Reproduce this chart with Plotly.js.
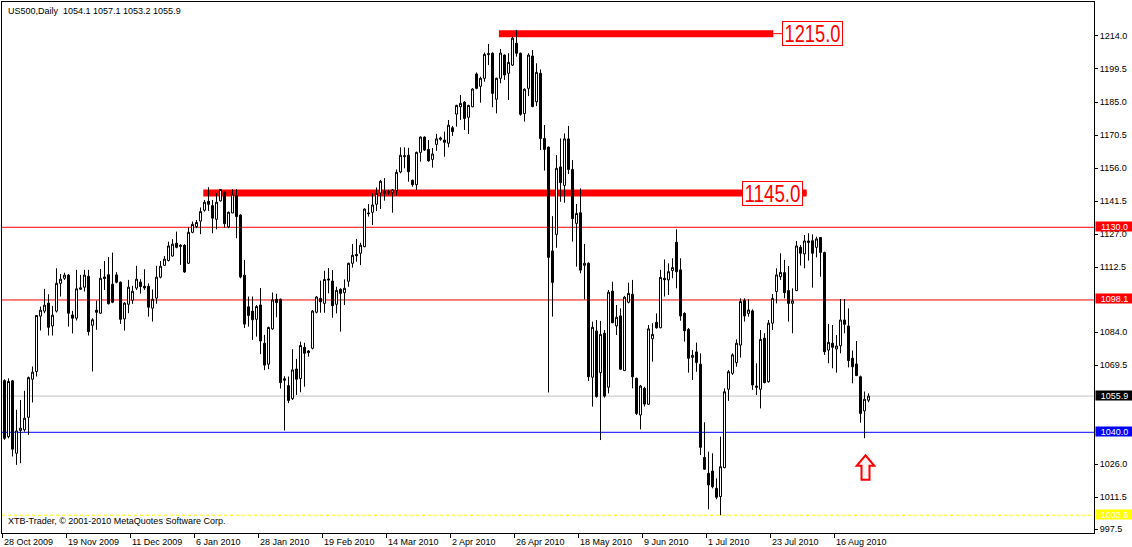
<!DOCTYPE html>
<html><head><meta charset="utf-8">
<script src="https://cdn.plot.ly/plotly-3.0.1.min.js"></script>
<style>html,body{margin:0;padding:0;background:#fff;overflow:hidden}#chart{width:1132px;height:547px}</style>
</head><body><div id="chart"></div>
<script>
// ---- data (US500 daily) ----
const openP = [
1062.7,1038.1,1062.6,1030.8,1040.8,1041.1,1046.6,1063.3,1066.7,1091.0,
1093.2,1096.7,1086.7,1093.2,1105.4,1107.6,1109.0,1091.5,1090.1,1102.8,
1103.7,1108.5,1087.0,1093.6,1092.3,1108.2,1109.2,1105.0,1109.1,1105.9,
1089.8,1096.2,1098.0,1103.3,1106.0,1104.1,1104.1,1094.5,1098.9,1108.1,
1113.3,1115.4,1117.4,1123.0,1122.1,1122.1,1114.2,1127.8,1130.3,1132.7,
1137.5,1141.4,1139.5,1133.5,1141.6,1145.4,1130.2,1136.3,1143.9,1135.4,
1109.0,1095.1,1093.2,1089.6,1095.9,1079.1,1069.9,1085.4,1098.4,1098.4,
1063.5,1060.5,1054.8,1067.8,1063.6,1077.3,1075.7,1076.9,1092.7,1098.8,
1096.6,1107.3,1106.4,1096.2,1102.8,1101.3,1106.3,1114.2,1118.1,1118.6,
1121.5,1136.3,1136.6,1140.1,1145.1,1145.8,1145.8,1145.2,1146.1,1154.3,
1161.0,1161.6,1150.6,1148.7,1162.9,1169.6,1164.2,1159.8,1166.4,1168.6,
1168.3,1166.9,1173.7,1179.7,1182.9,1184.9,1178.3,1182.9,1197.3,1191.9,
1195.4,1205.8,1206.4,1186.2,1195.4,1205.6,1197.6,1201.2,1210.8,1206.4,
1179.9,1191.0,1205.2,1185.1,1197.6,1169.0,1165.2,1119.6,1126.9,1156.5,
1148.4,1168.8,1155.4,1131.7,1136.4,1113.3,1114.2,1064.2,1084.5,1066.2,
1083.5,1059.8,1102.0,1086.7,1091.1,1067.1,1097.1,1100.6,1063.7,1047.6,
1059.3,1052.3,1081.1,1088.3,1085.9,1107.6,1106.9,1111.0,1123.4,1111.3,
1092.2,1085.2,1072.9,1075.3,1069.9,1029.0,1022.0,1023.0,1015.4,1011.8,
1024.5,1058.9,1065.9,1070.6,1078.3,1097.8,1092.2,1093.3,1060.3,1058.9,
1081.3,1062.2,1087.9,1101.8,1108.3,1110.1,1102.2,1096.6,1102.2,1121.2,
1118.3,1123.3,1124.1,1121.2,1125.5,1118.9,1076.1,1079.1,1076.6,1078.0,
1089.3,1086.7,1072.5,1070.0,1064.4,1049.4,1054.1];
const highP = [
1063.3,1063.7,1063.0,1049.9,1054.2,1058.2,1064.5,1068.9,1091.5,1095.2,
1103.0,1100.6,1095.5,1112.0,1109.5,1110.1,1109.5,1093.3,1111.3,1109.1,
1111.3,1111.3,1090.1,1097.8,1111.7,1115.2,1116.9,1118.9,1110.3,1106.2,
1097.1,1106.9,1104.3,1113.1,1107.2,1111.6,1105.4,1102.7,1113.1,1115.2,
1117.4,1123.7,1124.8,1128.1,1122.6,1122.6,1129.9,1132.5,1133.2,1138.7,
1142.0,1147.6,1142.0,1145.0,1146.8,1145.7,1136.9,1146.7,1146.7,1135.7,
1115.7,1099.6,1099.6,1095.9,1103.3,1082.8,1086.4,1101.4,1100.8,1098.7,
1064.6,1064.5,1076.5,1072.2,1079.8,1079.3,1076.1,1093.7,1099.8,1106.6,
1110.9,1112.1,1111.2,1103.9,1103.2,1107.1,1114.5,1122.7,1124.9,1123.2,
1138.3,1140.2,1144.9,1147.5,1150.8,1151.6,1146.4,1146.8,1155.4,1165.1,
1165.1,1164.9,1151.0,1163.2,1169.9,1169.9,1168.3,1164.8,1171.0,1169.8,
1172.0,1177.1,1174.5,1183.8,1188.1,1185.4,1183.8,1191.1,1198.0,1196.1,
1206.7,1210.5,1206.8,1195.7,1208.3,1205.9,1206.4,1213.7,1216.6,1206.7,
1191.0,1206.4,1207.8,1202.0,1199.3,1174.9,1165.4,1134.9,1161.7,1169.0,
1171.2,1174.5,1159.5,1140.2,1147.1,1122.7,1114.6,1088.6,1089.3,1088.9,
1084.9,1102.5,1106.1,1095.9,1094.4,1099.9,1105.7,1106.9,1064.0,1060.8,
1060.0,1087.1,1087.9,1092.2,1111.3,1115.9,1114.2,1116.4,1129.1,1116.4,
1092.7,1085.8,1076.1,1079.4,1074.7,1044.4,1031.5,1030.8,1019.8,1038.1,
1059.3,1067.4,1074.7,1080.8,1098.8,1098.8,1098.4,1094.0,1070.3,1084.9,
1083.5,1089.3,1100.7,1112.0,1118.6,1115.7,1113.0,1103.2,1124.0,1122.2,
1126.6,1127.4,1126.9,1125.9,1125.6,1119.3,1087.6,1087.1,1082.7,1098.5,
1098.5,1094.4,1075.9,1080.1,1064.9,1057.9,1057.1];
const lowP = [
1036.7,1037.4,1029.4,1025.7,1026.4,1040.3,1038.9,1053.1,1064.5,1084.7,
1092.3,1082.5,1082.5,1092.6,1099.6,1106.9,1086.4,1083.4,1089.1,1102.5,
1101.8,1082.5,1066.7,1085.0,1092.0,1102.5,1096.1,1096.7,1105.4,1087.6,
1084.7,1092.3,1096.4,1102.5,1100.9,1102.5,1090.8,1088.6,1096.4,1107.6,
1113.1,1115.0,1117.1,1120.8,1113.5,1110.0,1113.9,1127.4,1129.6,1127.0,
1136.9,1137.2,1127.4,1129.1,1141.3,1129.9,1129.6,1136.2,1125.2,1107.6,
1085.8,1086.4,1080.6,1082.0,1074.3,1067.3,1067.7,1085.0,1090.5,1059.2,
1040.8,1052.8,1054.2,1056.4,1057.6,1060.0,1073.2,1076.4,1092.2,1092.5,
1092.5,1101.0,1090.3,1092.2,1084.2,1095.9,1103.9,1112.3,1114.9,1113.4,
1121.2,1134.7,1131.0,1137.1,1138.0,1141.7,1144.2,1136.4,1143.9,1153.7,
1155.9,1150.0,1147.8,1146.4,1158.8,1163.5,1158.8,1156.2,1163.6,1168.0,
1161.0,1165.1,1170.1,1174.2,1177.1,1172.7,1171.0,1182.7,1190.6,1184.7,
1193.9,1201.2,1182.7,1180.0,1193.2,1194.7,1185.9,1200.8,1204.9,1179.0,
1176.4,1187.6,1182.7,1183.2,1163.9,1154.9,1057.5,1090.8,1121.0,1141.2,
1140.8,1153.4,1123.7,1112.7,1109.8,1098.4,1062.5,1051.3,1055.2,1036.6,
1055.2,1057.1,1087.9,1082.7,1067.4,1066.9,1096.6,1059.3,1047.6,1041.3,
1051.3,1052.0,1071.0,1085.5,1085.7,1099.6,1100.3,1107.6,1103.2,1089.0,
1079.8,1066.2,1063.0,1066.6,1030.0,1023.5,1006.2,1015.4,1010.6,1003.6,
1024.2,1053.8,1065.2,1068.8,1072.8,1088.6,1090.8,1058.6,1056.4,1050.5,
1061.5,1061.8,1084.9,1096.6,1106.9,1098.8,1088.6,1083.5,1102.0,1113.2,
1112.0,1115.4,1103.5,1116.8,1108.3,1074.0,1070.3,1068.1,1066.2,1074.7,
1083.5,1068.5,1061.5,1064.7,1044.2,1037.4,1053.2];
const closeP = [
1037.4,1062.3,1032.6,1040.6,1041.8,1046.2,1064.0,1066.4,1091.3,1093.6,
1095.8,1086.1,1091.4,1105.4,1107.2,1109.0,1092.3,1090.1,1103.0,1103.4,
1109.0,1084.2,1089.4,1092.7,1107.6,1107.5,1096.5,1097.1,1105.9,1089.6,
1096.7,1103.7,1101.9,1107.2,1104.0,1103.4,1094.9,1098.4,1108.1,1112.9,
1116.0,1121.8,1122.6,1121.2,1121.7,1110.4,1127.8,1131.3,1132.1,1136.9,
1141.0,1140.1,1134.0,1141.0,1146.6,1131.6,1136.6,1144.5,1134.7,1108.2,
1087.5,1091.3,1089.4,1095.2,1080.1,1069.5,1086.0,1098.1,1097.0,1061.8,
1062.9,1054.0,1067.4,1063.3,1078.1,1074.7,1075.0,1093.2,1099.4,1097.3,
1107.1,1106.9,1095.6,1102.3,1101.0,1103.2,1114.2,1117.7,1117.5,1122.1,
1138.0,1136.0,1139.8,1144.9,1150.2,1144.9,1145.1,1146.4,1154.1,1161.6,
1161.4,1154.4,1148.7,1162.9,1169.6,1163.9,1159.2,1162.2,1168.8,1169.2,
1167.3,1174.8,1172.0,1183.5,1184.4,1177.8,1183.5,1190.7,1191.0,1195.4,
1205.9,1206.2,1188.8,1195.4,1206.5,1196.9,1202.4,1213.0,1206.4,1179.6,
1190.6,1205.6,1183.0,1198.0,1169.0,1164.2,1116.8,1105.8,1155.9,1149.6,
1168.8,1155.4,1133.8,1136.1,1111.2,1114.2,1064.4,1086.1,1055.7,1083.0,
1055.9,1101.5,1088.1,1090.5,1067.7,1099.3,1101.0,1064.4,1048.3,1060.3,
1052.4,1085.4,1083.0,1085.9,1108.0,1107.0,1110.5,1112.3,1110.5,1091.1,
1084.6,1072.5,1073.8,1070.6,1033.4,1023.8,1016.9,1016.1,1011.5,1024.9,
1057.8,1066.6,1074.0,1079.1,1097.4,1091.1,1093.7,1060.8,1059.8,1080.8,
1061.8,1087.9,1098.8,1109.1,1110.2,1101.3,1096.6,1097.7,1121.8,1118.6,
1124.0,1124.0,1118.6,1124.9,1119.0,1075.4,1079.5,1077.3,1077.9,1089.3,
1087.4,1071.5,1068.8,1064.9,1048.3,1054.5,1055.9];

const headerText = 'US500,Daily';
const footerText = 'XTB-Trader, \u00a9 2001-2010 MetaQuotes Software Corp.';
const dateTickBars = [0,16,32,48,64,80,96,112,128,144,160,176,192,208];
const dateTickLabels = ['28 Oct 2009','19 Nov 2009','11 Dec 2009','6 Jan 2010','28 Jan 2010','19 Feb 2010',
  '14 Mar 2010','2 Apr 2010','26 Apr 2010','18 May 2010','9 Jun 2010','1 Jul 2010','23 Jul 2010','16 Aug 2010'];
// visible price-scale ticks (the ones under the coloured level boxes are hidden in the original)
const priceTicks = [1214.0,1199.5,1185.0,1170.5,1156.0,1141.5,1127.0,1112.5,1084.0,1069.5,1026.0,1011.5,997.5];
// horizontal levels on the right price scale
const levelPrices = [1130.0, 1098.1, 1055.9, 1040.0, 1003.6];
// thick resistance zones with price boxes: price, first bar, last bar, label bar
const zonePrices = [1215.0, 1145.0];
const zoneStartBar = [123.6, 49.7];
const zoneEndBar = [192.2, 200.55];
const zoneLabelBar = [194.45, 184.45];

// ---- styles ----
const levelColors = ['#ff0000', '#ff0000', '#c0c0c0', '#0000ff', '#ffff00'];
const levelLabelBg = ['#ff0000', '#ff0000', '#000000', '#0000ff', '#ffff00'];
const FONT = '"Liberation Sans", Arial, sans-serif';

const bars = openP.map((_, i) => i);
const lastIdx = openP.length - 1;

const trace = {
  type: 'candlestick', x: bars, open: openP, high: highP, low: lowP, close: closeP,
  increasing: {line: {color: '#000000', width: 1}, fillcolor: '#ffffff'},
  decreasing: {line: {color: '#000000', width: 1}, fillcolor: '#000000'},
  whiskerwidth: 0, hoverinfo: 'skip', showlegend: false
};

const shapes = [];
levelPrices.forEach((p, k) => {
  shapes.push({type: 'line', xref: 'paper', x0: 0, x1: 1, yref: 'y', y0: p, y1: p, layer: 'below',
    line: {color: levelColors[k], width: 1, dash: k === 4 ? '3px,3px' : 'solid'}});
});
zonePrices.forEach((p, k) => {
  shapes.push({type: 'line', xref: 'x', x0: zoneStartBar[k], x1: zoneEndBar[k], yref: 'y', y0: p, y1: p,
    layer: 'below', line: {color: '#ff0000', width: 7}});
  shapes.push({type: 'line', xref: 'x', x0: zoneEndBar[k], x1: zoneLabelBar[k], yref: 'y', y0: p, y1: p,
    layer: 'below', line: {color: '#ff0000', width: 1}});
});
// hollow up-arrow under the penultimate candle
const arrowBar = lastIdx - 1;
shapes.push({type: 'path', xref: 'x', yref: 'y', xsizemode: 'pixel', ysizemode: 'pixel',
  xanchor: arrowBar, yanchor: lowP[arrowBar], layer: 'above',
  path: 'M 1,-17 L 9.8,-27.5 L 5,-27.5 L 5,-41.5 L -3,-41.5 L -3,-27.5 L -7.8,-27.5 Z',
  fillcolor: '#fff4f4', line: {color: '#ff0000', width: 2}});

const annotations = [];
annotations.push({xref: 'paper', yref: 'paper', x: 0, y: 1, xanchor: 'left', yanchor: 'top', xshift: 4, yshift: -2,
  showarrow: false, font: {family: FONT, size: 9, color: '#000'},
  text: headerText + '\u00a0\u00a0' + [openP[lastIdx], highP[lastIdx], lowP[lastIdx], closeP[lastIdx]].map(v => v.toFixed(1)).join(' ')});
annotations.push({xref: 'paper', yref: 'paper', x: 0, y: 0, xanchor: 'left', yanchor: 'bottom', xshift: 4, yshift: 5,
  showarrow: false, font: {family: FONT, size: 9, color: '#000'}, text: footerText});
zonePrices.forEach((p, k) => {
  annotations.push({xref: 'x', yref: 'y', x: zoneLabelBar[k], y: p, xanchor: 'left', yanchor: 'middle',
    showarrow: false, text: p.toFixed(1), font: {family: FONT, size: 24, color: '#ff0000'},
    bgcolor: '#ffffff', bordercolor: '#ff0000', borderwidth: 1, borderpad: 0, width: 59, height: 23,
    align: 'center', name: 'zoneLabel'});
});
levelPrices.forEach((p, k) => {
  annotations.push({xref: 'paper', yref: 'y', x: 1, y: p, xanchor: 'left', yanchor: 'middle', xshift: 1, yshift: 1,
    showarrow: false, text: p.toFixed(1), font: {family: FONT, size: 9, color: '#ffffff'},
    bgcolor: levelLabelBg[k], borderpad: 0, width: 37, height: 9, align: 'center'});
});

const layout = {
  width: 1132, height: 547,
  margin: {l: 2, r: 38, t: 2, b: 14, pad: 0},
  paper_bgcolor: '#ffffff', plot_bgcolor: '#ffffff',
  showlegend: false, boxgap: 0.5, boxgroupgap: 0,
  font: {family: FONT, size: 9, color: '#000'},
  xaxis: {type: 'linear', range: [-0.625, 272.375], showgrid: false, zeroline: false,
    showline: true, mirror: true, linecolor: '#000', linewidth: 1,
    ticks: 'outside', ticklen: 4, tickwidth: 1, tickcolor: '#000',
    tickvals: dateTickBars.map(b => b - 0.4), ticktext: dateTickLabels,
    ticklabelposition: 'outside right', tickfont: {family: FONT, size: 9, color: '#000'},
    rangeslider: {visible: false}, fixedrange: true},
  yaxis: {side: 'right', range: [995.8, 1228.9], showgrid: false, zeroline: false,
    showline: true, mirror: true, linecolor: '#000', linewidth: 1,
    ticks: 'outside', ticklen: 3, tickwidth: 1, tickcolor: '#000',
    tickvals: priceTicks, ticktext: priceTicks.map(v => v.toFixed(1)),
    tickfont: {family: FONT, size: 9, color: '#000'}, fixedrange: true},
  shapes: shapes, annotations: annotations
};

Plotly.newPlot('chart', [trace], layout, {staticPlot: true, displayModeBar: false}).then(function () {
  // the MetaTrader price boxes use a condensed face: squeeze the glyphs to the box
  const zoneTexts = zonePrices.map(p => p.toFixed(1));
  document.querySelectorAll('#chart .annotation-text').forEach(function (t) {
    if (zoneTexts.indexOf(t.textContent) >= 0) {
      t.setAttribute('textLength', '56');
      t.setAttribute('lengthAdjust', 'spacingAndGlyphs');
    }
  });
});
</script></body></html>
